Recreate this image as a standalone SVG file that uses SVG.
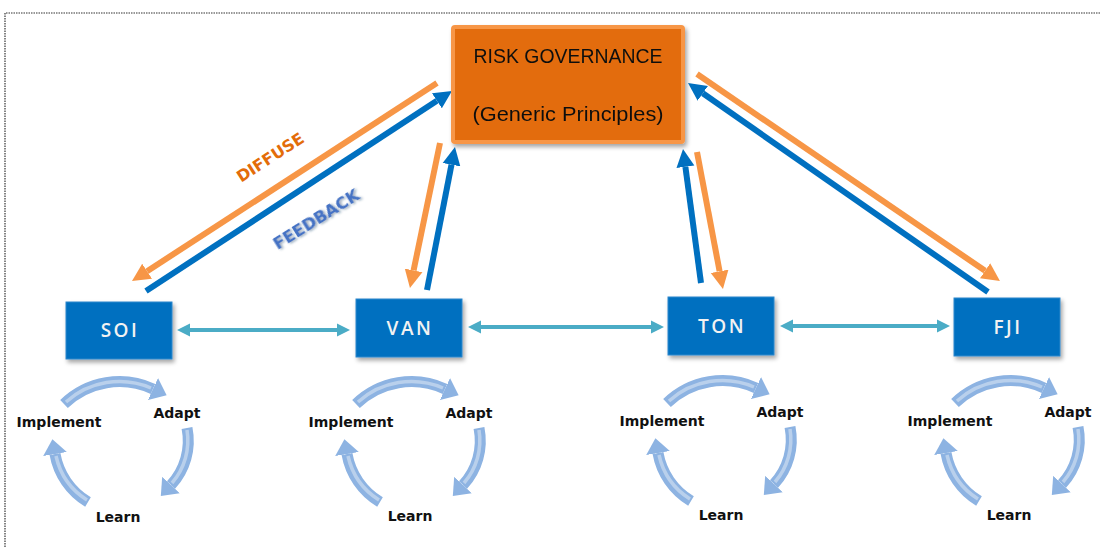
<svg xmlns="http://www.w3.org/2000/svg" xmlns:xlink="http://www.w3.org/1999/xlink" width="1101" height="547" viewBox="0 0 1101 547">
<style>
.frame{stroke:#333;stroke-width:1.2;stroke-dasharray:1.5 1;fill:none}
.gov{fill:#E36C09;stroke:#F79646;stroke-width:4}
.govt{font-family:"Liberation Sans",Arial,sans-serif;font-size:20px;fill:#111;text-anchor:middle}
.box{fill:#0070C0;stroke:#2F86CB;stroke-width:1}
.boxt{font-family:"Open Sans","DejaVu Sans",sans-serif;font-weight:600;font-size:19px;fill:#F2F2F2;letter-spacing:2.5px;text-anchor:middle}
.cyc{font-family:"DejaVu Sans",sans-serif;font-weight:bold;font-size:14px;fill:#111;text-anchor:middle}
.og{stroke:#F79646;stroke-width:6;fill:none;marker-end:url(#hO)}
.bl{stroke:#0070C0;stroke-width:6;fill:none;marker-end:url(#hB)}
.tl{stroke:#4BACC6;stroke-width:4;fill:none;marker-start:url(#hT);marker-end:url(#hT)}
.arc{stroke:#8DB3E2;stroke-width:11;fill:none;marker-end:url(#hC)}
.arcin{stroke:#B9D0EC;stroke-width:3.5;fill:none}
.lab{font-family:"DejaVu Sans",sans-serif;font-weight:bold;font-size:16px;text-anchor:middle}
</style>
<defs>
<filter id="sh" x="-20%" y="-20%" width="140%" height="150%"><feDropShadow dx="2" dy="3" stdDeviation="2" flood-color="#000" flood-opacity="0.35"/></filter>
<filter id="shs" x="-10%" y="-10%" width="120%" height="130%"><feDropShadow dx="1.5" dy="1.5" stdDeviation="1" flood-color="#1F3864" flood-opacity="0.45"/></filter>
<filter id="soft" x="-10%" y="-10%" width="120%" height="120%"><feGaussianBlur stdDeviation="0.7"/></filter>
<marker id="hO" markerUnits="userSpaceOnUse" viewBox="0 -10 19 20" markerWidth="19" markerHeight="20" refX="0" refY="0" orient="auto"><path d="M0,-9 L18,0 L0,9 z" fill="#F79646"/></marker>
<marker id="hB" markerUnits="userSpaceOnUse" viewBox="0 -10 19 20" markerWidth="19" markerHeight="20" refX="0" refY="0" orient="auto"><path d="M0,-9 L18,0 L0,9 z" fill="#0070C0"/></marker>
<marker id="hT" markerUnits="userSpaceOnUse" viewBox="0 -7 14 14" markerWidth="14" markerHeight="14" refX="0" refY="0" orient="auto-start-reverse"><path d="M0,-6.5 L13,0 L0,6.5 z" fill="#4BACC6"/></marker>
<marker id="hC" markerUnits="userSpaceOnUse" viewBox="0 -13 16 26" markerWidth="16" markerHeight="26" refX="0" refY="0" orient="auto"><path d="M0,-12 L15,0 L0,12 z" fill="#8DB3E2"/></marker>
<g id="cycle" filter="url(#soft)">
<path class="arc" d="M64,404 A80,80 0 0 1 153,389"/>
<path class="arcin" d="M66,402 A80,80 0 0 1 151,388"/>
<path class="arc" d="M187,428 A65,65 0 0 1 171,485"/>
<path class="arcin" d="M187,430 A65,65 0 0 1 172,483"/>
<path class="arc" d="M88,502 A70,70 0 0 1 55,454"/>
<path class="arcin" d="M87,500 A70,70 0 0 1 56,456"/>
</g>
</defs>
<rect width="1101" height="547" fill="#fff"/>
<path class="frame" d="M5,547 V13 H1101"/>

<g id="connectors">
<path class="og" d="M437,83 L147.1,271.2"/>
<path class="bl" d="M146,291 L436.9,100.8"/>
<path class="og" d="M440,143 L413.6,270.4"/>
<path class="bl" d="M427,290 L451.5,164.7"/>
<path class="bl" d="M701,283 L685.4,166.8"/>
<path class="og" d="M697,152 L719.6,271.3"/>
<path class="og" d="M697,74 L985.1,270.8"/>
<path class="bl" d="M988,292 L702.8,93.3"/>
<path class="tl" d="M190,330 H337"/>
<path class="tl" d="M481,327 H651"/>
<path class="tl" d="M793,326 H937"/>
</g>

<g id="labels">
<text class="lab" fill="#E36C09" transform="translate(270,157) rotate(-33)" y="6">DIFFUSE</text>
<text class="lab" fill="#4472C4" filter="url(#shs)" transform="translate(316,219) rotate(-32)" y="6" textLength="98" lengthAdjust="spacingAndGlyphs">FEEDBACK</text>
</g>

<g id="risk-governance" filter="url(#sh)">
<rect class="gov" x="453" y="27" width="230" height="115" rx="2"/>
<text class="govt" x="568" y="63" textLength="189" lengthAdjust="spacingAndGlyphs">RISK GOVERNANCE</text>
<text class="govt" x="568" y="121" textLength="191" lengthAdjust="spacingAndGlyphs">(Generic Principles)</text>
</g>

<g id="soi">
<rect class="box" x="66" y="302" width="106" height="57" filter="url(#sh)"/>
<text class="boxt" x="120" y="337">SOI</text>
</g>
<g id="van">
<rect class="box" x="356" y="299" width="106" height="58" filter="url(#sh)"/>
<text class="boxt" x="410" y="335">VAN</text>
</g>
<g id="ton">
<rect class="box" x="668" y="297" width="106" height="58" filter="url(#sh)"/>
<text class="boxt" x="722" y="333">TON</text>
</g>
<g id="fji">
<rect class="box" x="954" y="298" width="106" height="58" filter="url(#sh)"/>
<text class="boxt" x="1008" y="334">FJI</text>
</g>

<g id="cycle-soi">
<use xlink:href="#cycle"/>
<text class="cyc" x="59" y="427">Implement</text>
<text class="cyc" x="177" y="418">Adapt</text>
<text class="cyc" x="118" y="522">Learn</text>
</g>
<g id="cycle-van" transform="translate(292,0)">
<use xlink:href="#cycle"/>
<text class="cyc" x="59" y="427">Implement</text>
<text class="cyc" x="177" y="418">Adapt</text>
<text class="cyc" x="118" y="521">Learn</text>
</g>
<g id="cycle-ton" transform="translate(603,-1)">
<use xlink:href="#cycle"/>
<text class="cyc" x="59" y="427">Implement</text>
<text class="cyc" x="177" y="418">Adapt</text>
<text class="cyc" x="118" y="521">Learn</text>
</g>
<g id="cycle-fji" transform="translate(891,-1)">
<use xlink:href="#cycle"/>
<text class="cyc" x="59" y="427">Implement</text>
<text class="cyc" x="177" y="418">Adapt</text>
<text class="cyc" x="118" y="521">Learn</text>
</g>
</svg>
